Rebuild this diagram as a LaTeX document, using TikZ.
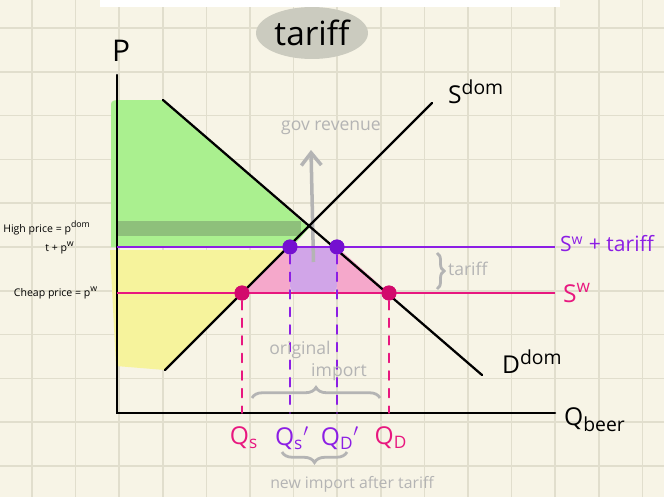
\documentclass[tikz,border=0pt]{standalone}
\usepackage{fontspec}
\setmainfont{Open Sans}
\usetikzlibrary{positioning,arrows.meta,shapes.geometric,calc,decorations.pathreplacing}
\definecolor{paper}{HTML}{F7F4E6}
\definecolor{gridline}{HTML}{E1DECD}
\definecolor{worldpink}{HTML}{E8177F}
\definecolor{dotpink}{HTML}{D20A6C}
\definecolor{tarviolet}{HTML}{8C1EE4}
\definecolor{dotviolet}{HTML}{7410D0}
\definecolor{csgreen}{HTML}{AAF08F}
\definecolor{bandgreen}{HTML}{8EC07B}
\definecolor{psyellow}{HTML}{F6F39C}
\definecolor{dwlpink}{HTML}{F5A8CB}
\definecolor{revlilac}{HTML}{D1A5E8}
\definecolor{note}{HTML}{B4B4B4}
\definecolor{blob}{HTML}{CBCBBF}

\begin{document}
\begin{tikzpicture}[
      x=0.02cm, y=-0.02cm,
      font=\fontsize{14}{16}\selectfont,
      gridln/.style={draw=gridline, line width=0.8pt},
      axis/.style={line width=1.5pt, black, line cap=round},
      curve/.style={line width=1.3pt, black, line cap=round},
      wline/.style={draw=worldpink, line width=1.5pt},
      tline/.style={draw=tarviolet, line width=1.5pt},
      wdot/.style={circle, fill=dotpink, inner sep=0pt, minimum size=0.3cm},
      tdot/.style={circle, fill=dotviolet, inner sep=0pt, minimum size=0.3cm},
      wdash/.style={draw=worldpink, line width=1pt, dash pattern=on 5pt off 5pt, line cap=round},
      tdash/.style={draw=tarviolet, line width=1pt, dash pattern=on 5pt off 5pt, line cap=round},
      wlab/.style={text=worldpink, inner sep=1pt},
      tlab/.style={text=tarviolet, inner sep=1pt},
      side/.style={font=\fontsize{6}{7}\selectfont, inner sep=1pt},
      notelab/.style={text=note, font=\fontsize{10}{12}\selectfont, inner sep=1pt},
      notebrace/.style={draw=note, line width=1.6pt, decorate,
                        decoration={brace, amplitude=6pt}},
      revbox/.style={fill=revlilac, rounded corners=4pt, inner sep=0pt,
                     minimum width=0.94cm, minimum height=0.92cm},
      titleblob/.style={ellipse, fill=blob, inner sep=0pt,
                        minimum width=2.24cm, minimum height=1.04cm,
                        font=\fontsize{19}{21}\selectfont},
  ]

  % Paper and grid
  \useasboundingbox (0,0) rectangle (664,497);
  \fill[paper] (0,0) rectangle (664,497);
  \foreach \gx in {0,...,14} \draw[gridln] ({32+43.6*\gx},0) -- ++(0,497);
  \foreach \gy in {0,...,10} \draw[gridln] (0,{28+43.8*\gy}) -- ++(664,0);
  \fill[white] (100,0) rectangle (560,7);

  % Key points
  \coordinate (O)    at (117,413);
  \coordinate (ytop) at (117,75);
  \coordinate (xend) at (555,413);
  \coordinate (s0)   at (165,370);
  \coordinate (s1)   at (432,103);
  \coordinate (d0)   at (163,100);
  \coordinate (d1)   at (482,375);
  \coordinate (sw0)  at (117,293);
  \coordinate (sw1)  at (555,293);
  \coordinate (st0)  at (117,247);
  \coordinate (st1)  at (555,247);

  % Surplus areas
  \fill[csgreen] (111,104) to[out=90,in=180] (120,100) -- (d0) -- (309,228)
      -- (292,247) -- (111,247) -- cycle;
  \fill[bandgreen] (117,221) rectangle (301,236);
  \fill[psyellow] (110,250) -- (286,250) -- (s0) -- (116,366) -- cycle;

  % Dots (placed first, used by the fills)
  \node[wdot] (qs)  at (242,293) {};
  \node[wdot] (qd)  at (389,293) {};
  \node[tdot] (qst) at (290,247) {};
  \node[tdot] (qdt) at (337,247) {};

  \fill[dwlpink] (qs.center) -- (qst.center) -- (qst |- qs) -- cycle;
  \fill[dwlpink] (qdt.center) -- (qd.center) -- (qdt |- qd) -- cycle;
  \node[revbox] (rev) at (313.5,270) {};

  % Gov revenue note
  \node[notelab] (revtxt) at (331,128) {gov revenue};
  \coordinate (revtip) at (311,150);
  \draw[draw=note, line width=2pt, -{Straight Barb[length=2.5mm, width=4mm]}]
    (rev.center |- 0,262) -- (revtip);

  % Axes
  \draw[axis] (ytop) -- (O) -- (xend);
  \node (P) at (121,51) {\fontsize{17}{19}\selectfont P};
  \node (Qb) [anchor=west] at (558,420) {Q\textsubscript{\fontsize{11}{12}\selectfont beer}};

  % Domestic curves
  \draw[curve] (s0) -- (s1);
  \draw[curve] (d0) -- (d1);
  \node (Sdom) [anchor=west] at (442,92) {S\textsuperscript{\fontsize{11}{12}\selectfont dom}};
  \node (Ddom) [anchor=west] at (496,362) {D\textsuperscript{\fontsize{11}{12}\selectfont dom}};

  % World price lines
  \draw[tline] (st0) -- (st1);
  \draw[wline] (sw0) -- (sw1);
  \node[tlab, font=\fontsize{12}{14}\selectfont] (Stl) [anchor=west] at (558,244) {S\textsuperscript{w} + tariff};
  \node[wlab] (Swl) [anchor=west] at (561,293) {S\textsuperscript{w}};

  % Redraw dots on top
  \node[wdot] at (qs) {};
  \node[wdot] at (qd) {};
  \node[tdot] at (qst) {};
  \node[tdot] at (qdt) {};

  % Quantity drops
  \draw[wdash] (qs.south)  -- (qs |- O);
  \draw[tdash] (qst.south) -- (qst |- O);
  \draw[tdash] (qdt.south) -- (qdt |- O);
  \draw[wdash] (qd.south)  -- (qd |- O);

  \node[wlab] (lqs)  at (244,438) {Q\textsubscript{s}};
  \node[tlab] (lqst) at (292,438) {Q\textsubscript{s}$'$};
  \node[tlab] (lqdt) at (340,438) {Q\textsubscript{D}$'$};
  \node[wlab] (lqd)  at (391,438) {Q\textsubscript{D}};

  % Import notes
  \node[notelab] (orig1) at (300,350) {original};
  \node[notelab] (orig2) at (339,372) {import};
  \draw[notebrace] (252,398) -- (380,398);
  \draw[notebrace] (347,452) -- (282,452);
  \node[notelab, font=\fontsize{9}{11}\selectfont] (newimp) at (352,484) {new import after tariff};
  \draw[notebrace, decoration={brace, amplitude=4pt}] (437,253) -- (437,289);
  \node[notelab] (tartxt) [anchor=west] at (446,269) {tariff};

  % Price labels
  \node[side] (hp)  at (47,228) {High price = p\textsuperscript{dom}};
  \node[side] (hp2) at (60,248) {t + p\textsuperscript{w}};
  \node[side] (cp)  at (56,293) {Cheap price = p\textsuperscript{w}};

  % Title
  \node[titleblob] (title) at (312,33) {tariff};

\end{tikzpicture}
\end{document}
